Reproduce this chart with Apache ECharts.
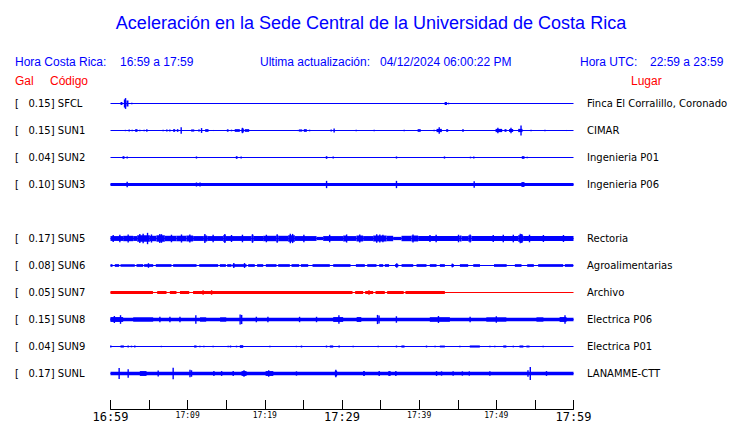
<!DOCTYPE html>
<html>
<head>
<meta charset="utf-8">
<script src="https://cdn.jsdelivr.net/npm/echarts@6/dist/echarts.min.js"></script>
<style>html,body{margin:0;padding:0;background:#fff}#c{width:740px;height:423px}</style>
</head>
<body>
<div id="c"></div>
<script>
// ---- time axis (minutes after 16:59) ----
const tickMinutes = [0, 10, 20, 30, 40, 50, 60];
const tickLabels = ['16:59', '17:09', '17:19', '17:29', '17:39', '17:49', '17:59'];
const bigTicks = [0, 30, 60];

// ---- stations (row order; row 4 is empty) ----
const codes = ['SFCL', 'SUN1', 'SUN2', 'SUN3', '', 'SUN5', 'SUN6', 'SUN7', 'SUN8', 'SUN9', 'SUNL'];
const galValues = ['0.15', '0.15', '0.04', '0.10', '', '0.17', '0.08', '0.05', '0.15', '0.04', '0.17'];
const places = ['Finca El Corralillo, Coronado', 'CIMAR', 'Ingenieria P01', 'Ingenieria P06', '',
  'Rectoria', 'Agroalimentarias', 'Archivo', 'Electrica P06', 'Electrica P01', 'LANAMME-CTT'];

// ---- trace envelopes: segments [t0, t1, halfAmplitude], spikes [t, halfAmplitude] ----
const SFCL_seg = [[1.3,1.55,0.056],[1.76,1.98,0.11],[2.07,2.33,0.11],[43.3,43.6,0.056]];
const SFCL_spk = [[1.82,0.15],[1.95,0.2],[2.76,0.03],[43.8,0.03]];

const SUN1_seg = [[3.2,3.5,0.05],[4.62,4.8,0.05],[7.2,7.4,0.04],[7.6,7.78,0.04],[8.12,8.38,0.05],[8.6,8.8,0.05],
  [10.45,10.85,0.04],[11.36,11.58,0.04],[12.27,12.7,0.05],[15.08,15.3,0.045],[16.1,16.76,0.05],[16.98,17.28,0.07],
  [17.4,17.97,0.05],[24.4,24.84,0.04],[25.05,25.44,0.05],[39.8,40.2,0.05],[42.25,42.94,0.06],[43.5,43.76,0.05],
  [45.57,45.79,0.05],[49.9,50.76,0.06],[51.06,51.32,0.05],[51.65,52.18,0.06],[52.83,53.39,0.06]];
const SUN1_spk = [[1.94,0.025],[2.42,0.037],[2.81,0.03],[3.8,0.03],[4.36,0.03],[6.18,0.02],[6.82,0.025],[9.16,0.12],
  [11.8,0.09],[13.35,0.02],[15.68,0.03],[17.1,0.1],[19.0,0.02],[21.2,0.02],[24.23,0.02],[25.8,0.03],[28.6,0.04],
  [28.98,0.075],[31.84,0.03],[34.17,0.03],[38.06,0.03],[38.79,0.02],[40.9,0.02],[41.94,0.03],[42.6,0.12],[50.2,0.1],
  [51.9,0.1],[53.2,0.185],[54.5,0.03],[56.3,0.03],[59.1,0.02]];

const SUN2_seg = [[1.56,1.81,0.05],[16.24,16.46,0.05],[27.9,28.1,0.05],[53.3,53.65,0.05]];
const SUN2_spk = [[2.16,0.04],[11.14,0.04],[16.93,0.04],[24.45,0.02],[28.86,0.04],[37.06,0.04],[43.28,0.04],
  [46.65,0.03],[47.08,0.04],[54.0,0.03]];

const SUN3_seg = [[0,60,0.056],[53.25,53.65,0.09]];
const SUN3_spk = [[2.16,0.1],[11.14,0.075],[11.6,0.07],[28.0,0.135],[37.06,0.135],[47.13,0.12]];

const SUN5_seg = [[0,1.64,0.09],[1.64,2.94,0.1],[2.94,3.46,0.09],[3.46,5.1,0.12],[5.1,5.96,0.1],[5.96,7.04,0.12],
  [7.04,8.55,0.1],[8.55,9.85,0.1],[9.85,10.71,0.11],[10.71,12.1,0.09],[12.1,12.53,0.11],[12.53,14.6,0.09],
  [14.6,14.95,0.12],[14.95,18.27,0.09],[18.27,18.57,0.11],[18.57,19.78,0.09],[19.78,21.51,0.1],[21.51,21.73,0.12],
  [21.73,23.02,0.1],[23.02,23.89,0.12],[23.89,26.7,0.09],[26.7,27.56,0.06],[27.56,30.15,0.09],[30.15,30.58,0.11],
  [30.58,31.88,0.09],[31.88,32.74,0.11],[32.74,34.04,0.09],[34.04,35.77,0.11],[35.77,36.63,0.1],[36.63,37.71,0.06],
  [37.71,39.0,0.1],[39.0,39.87,0.11],[39.87,45.27,0.09],[45.27,45.49,0.11],[45.49,46.35,0.09],[46.35,46.78,0.11],
  [46.78,52.83,0.09],[52.83,53.47,0.12],[53.47,60,0.09]];
const SUN5_spk = [[0.35,0.13],[1.21,0.14],[2.29,0.15],[3.8,0.17],[4.23,0.18],[4.8,0.21],[5.31,0.15],[6.39,0.17],
  [6.61,0.16],[7.9,0.14],[9.2,0.15],[10.28,0.15],[12.23,0.17],[13.3,0.14],[14.82,0.17],[15.68,0.13],[17.1,0.14],
  [18.4,0.16],[20.2,0.14],[21.6,0.16],[23.3,0.18],[23.6,0.17],[25.06,0.14],[28.4,0.14],[30.6,0.15],[32.3,0.15],
  [34.5,0.16],[34.9,0.15],[35.3,0.14],[39.2,0.15],[41.4,0.13],[42.2,0.14],[45.1,0.14],[46.6,0.15],[49.6,0.13],
  [50.9,0.14],[52.2,0.14],[53.1,0.18],[53.3,0.17],[54.3,0.14],[56.1,0.13],[58.7,0.13]];

const SUN6_seg = [[0,0.26,0.05],[0.56,1.12,0.05],[1.3,3.15,0.05],[3.37,4.23,0.05],[4.36,5.53,0.05],[5.87,7.9,0.05],
  [8.12,11.15,0.05],[11.5,13.95,0.05],[14.17,14.95,0.05],[15.12,15.68,0.05],[15.81,17.63,0.05],[17.84,18.7,0.05],
  [19.0,19.79,0.05],[20.13,21.51,0.05],[21.73,23.24,0.05],[23.46,24.45,0.05],[24.67,25.62,0.05],[26.18,28.42,0.05],
  [28.86,31.1,0.05],[31.8,32.96,0.05],[33.27,34.47,0.05],[34.82,35.34,0.05],[35.55,36.1,0.05],[36.87,37.3,0.05],
  [37.72,39.23,0.05],[39.66,40.95,0.05],[41.38,42.25,0.05],[42.68,43.33,0.05],[44.2,44.5,0.05],[45.28,46.35,0.05],
  [47.01,47.88,0.05],[49.7,51.34,0.05],[52.4,53.26,0.05],[54.0,54.86,0.05],[55.42,58.66,0.05],[58.88,59.96,0.05]];
const SUN6_spk = [[4.92,0.085],[15.98,0.09],[17.37,0.09],[37.1,0.085],[44.3,0.07]];

const SUN7_seg = [[0,5.5,0.055],[6.05,7.26,0.055],[7.69,8.55,0.055],[9.0,10.2,0.055],[10.7,31.36,0.055],
  [31.7,32.74,0.055],[33.0,34.04,0.055],[34.34,35.55,0.055],[35.85,38.0,0.055],[38.22,43.33,0.055]];
const SUN7_spk = [[12.0,0.085],[13.1,0.085],[33.5,0.08]];

const SUN8_seg = [[0,60,0.065],[0,1.64,0.09],[2.94,5.53,0.08],[11.6,12.4,0.08],[14.2,15.0,0.08],[28.86,30.15,0.09],
  [31.9,32.5,0.09],[41.38,43.98,0.085],[48.7,51.3,0.08],[55.2,56.1,0.08],[58.2,59.1,0.09]];
const SUN8_spk = [[0.5,0.13],[1.3,0.16],[6.4,0.1],[7.7,0.1],[9.0,0.1],[11.06,0.16],[16.8,0.185],[17.0,0.17],
  [18.9,0.1],[20.4,0.1],[24.5,0.1],[26.7,0.1],[29.6,0.16],[34.6,0.17],[34.8,0.15],[37.05,0.12],[42.5,0.13],
  [46.6,0.1],[50.0,0.12],[58.9,0.16]];

const SUN9_seg = [[1.3,1.73,0.04],[10.84,11.15,0.04],[16.76,17.2,0.05],[28.42,28.86,0.04],[37.7,38.1,0.04],
  [42.68,43.33,0.035],[46.56,47.86,0.04],[50.9,51.3,0.04],[53.0,53.5,0.04],[53.9,54.3,0.035]];
const SUN9_spk = [[0.04,0.04],[2.29,0.035],[2.72,0.03],[3.15,0.035],[6.6,0.025],[11.58,0.03],[12.1,0.03],
  [13.3,0.025],[15.25,0.03],[15.55,0.035],[16.33,0.03],[20.65,0.03],[24.1,0.025],[24.75,0.035],[27.99,0.035],
  [29.63,0.035],[31.45,0.03],[34.69,0.03],[37.06,0.035],[40.95,0.035],[42.06,0.03],[45.27,0.025],[49.16,0.03],
  [49.8,0.03],[52.2,0.03],[56.07,0.025]];

const SUNL_seg = [[0,60,0.062],[3.8,4.67,0.09],[16.98,17.63,0.09],[20.1,21.1,0.09],[29.07,29.37,0.1],
  [32.74,32.96,0.09],[36.0,36.3,0.09]];
const SUNL_spk = [[1.12,0.2],[2.29,0.16],[6.18,0.11],[8.12,0.21],[10.3,0.14],[10.5,0.12],[13.4,0.09],[14.4,0.09],
  [15.9,0.09],[17.3,0.12],[20.5,0.12],[24.1,0.08],[29.2,0.14],[34.82,0.09],[36.98,0.09],[42.25,0.09],[42.9,0.08],
  [44.4,0.08],[45.6,0.08],[46.5,0.08],[49.16,0.08],[54.1,0.12],[54.4,0.24],[56.5,0.09]];

const traceSegs = [SFCL_seg, SUN1_seg, SUN2_seg, SUN3_seg, null, SUN5_seg, SUN6_seg, SUN7_seg, SUN8_seg, SUN9_seg, SUNL_seg];
const traceSpks = [SFCL_spk, SUN1_spk, SUN2_spk, SUN3_spk, null, SUN5_spk, SUN6_spk, SUN7_spk, SUN8_spk, SUN9_spk, SUNL_spk];
const traceColors = ['#0000ff','#0000ff','#0000ff','#0000ff',null,'#0000ff','#0000ff','#ff0000','#0000ff','#0000ff','#0000ff'];

const BLUE = '#0000ff', RED = '#ff0000';
const chart = echarts.init(document.getElementById('c'), null, {renderer: 'svg'});

function makeRender(color) {
  return function (params, api) {
    const t0 = api.value(0), t1 = api.value(1), row = api.value(2), a = api.value(3);
    const p0 = api.coord([t0, row - a]);
    const p1 = api.coord([t1, row + a]);
    let x = Math.min(p0[0], p1[0]), w = Math.abs(p1[0] - p0[0]);
    if (w < 1.4) { const c = (p0[0] + p1[0]) / 2; x = c - 0.7; w = 1.4; }
    let y = Math.min(p0[1], p1[1]), h = Math.abs(p1[1] - p0[1]);
    if (h < 1) { const c = (p0[1] + p1[1]) / 2; y = c - 0.5; h = 1; }
    return {type: 'rect', shape: {x: x, y: y, width: w, height: h}, style: {fill: color}};
  };
}

const series = [];
for (let r = 0; r < codes.length; r++) {
  if (!traceSegs[r]) continue;
  const color = traceColors[r];
  series.push({
    type: 'line', silent: true, symbol: 'none', animation: false,
    data: [[0, r], [60, r]], lineStyle: {color: color, width: 1}, z: 2
  });
  const items = traceSegs[r].map(s => [s[0], s[1], r, s[2]])
    .concat(traceSpks[r].map(s => [s[0], s[0], r, s[1]]));
  series.push({
    type: 'custom', silent: true, animation: false, clip: false,
    renderItem: makeRender(color), encode: {x: [0, 1], y: 2},
    data: items, z: 3
  });
}

const option = {
  backgroundColor: '#ffffff',
  animation: false,
  grid: {left: 110.5, top: 103.5, width: 463, height: 270, containLabel: false},
  xAxis: {
    type: 'value', min: 0, max: 60, interval: 5, position: 'bottom', offset: 35.5,
    axisLine: {show: true, onZero: false, lineStyle: {color: '#000', width: 1}},
    axisTick: {show: true, inside: true, length: 9, lineStyle: {color: '#000', width: 1}},
    splitLine: {show: false},
    axisLabel: {
      show: true, showMinLabel: true, showMaxLabel: true, margin: 1,
      formatter: function (v) {
        const i = tickMinutes.indexOf(v);
        if (i < 0) return '';
        return bigTicks.indexOf(v) >= 0 ? '{big|' + tickLabels[i] + '}' : '{small|' + tickLabels[i] + '}';
      },
      rich: {
        big: {fontFamily: 'DejaVu Sans Mono', fontSize: 12, lineHeight: 14, color: '#000'},
        small: {fontFamily: 'DejaVu Sans Mono', fontSize: 8, lineHeight: 10, color: '#000'}
      }
    }
  },
  yAxis: [{
    type: 'value', min: 0, max: 10, interval: 1, inverse: true, position: 'left',
    axisLine: {show: false}, axisTick: {show: false}, splitLine: {show: false},
    axisLabel: {
      show: true, showMinLabel: true, showMaxLabel: true, margin: 95.5, align: 'left',
      fontFamily: 'DejaVu Sans', fontSize: 10, color: '#000',
      formatter: function (v) { return codes[v] ? '[   ' + galValues[v] + '] ' + codes[v] : ''; }
    }
  }, {
    type: 'value', min: 0, max: 10, interval: 1, inverse: true, position: 'right',
    axisLine: {show: false}, axisTick: {show: false}, splitLine: {show: false},
    axisLabel: {
      show: true, showMinLabel: true, showMaxLabel: true, margin: 13.5, align: 'left',
      fontFamily: 'DejaVu Sans', fontSize: 10, color: '#000',
      formatter: function (v) { return places[v] || ''; }
    }
  }],
  graphic: [
    {type: 'text', x: 371, y: 23, style: {text: 'Aceleración en la Sede Central de la Universidad de Costa Rica',
      fill: BLUE, font: '18px "Liberation Sans", Arial, sans-serif', align: 'center', verticalAlign: 'middle'}},
    {type: 'text', x: 15, y: 61.5, style: {text: 'Hora Costa Rica:', fill: BLUE, font: '12px "Liberation Sans"', verticalAlign: 'middle'}},
    {type: 'text', x: 120, y: 61.5, style: {text: '16:59 a 17:59', fill: BLUE, font: '12px "Liberation Sans"', verticalAlign: 'middle'}},
    {type: 'text', x: 260, y: 61.5, style: {text: 'Ultima actualización:', fill: BLUE, font: '12px "Liberation Sans"', verticalAlign: 'middle'}},
    {type: 'text', x: 380, y: 61.5, style: {text: '04/12/2024 06:00:22 PM', fill: BLUE, font: '12px "Liberation Sans"', verticalAlign: 'middle'}},
    {type: 'text', x: 580, y: 61.5, style: {text: 'Hora UTC:', fill: BLUE, font: '12px "Liberation Sans"', verticalAlign: 'middle'}},
    {type: 'text', x: 650, y: 61.5, style: {text: '22:59 a 23:59', fill: BLUE, font: '12px "Liberation Sans"', verticalAlign: 'middle'}},
    {type: 'text', x: 15, y: 81, style: {text: 'Gal', fill: RED, font: '12px "Liberation Sans"', verticalAlign: 'middle'}},
    {type: 'text', x: 50, y: 81, style: {text: 'Código', fill: RED, font: '12px "Liberation Sans"', verticalAlign: 'middle'}},
    {type: 'text', x: 631, y: 81, style: {text: 'Lugar', fill: RED, font: '12px "Liberation Sans"', verticalAlign: 'middle'}}
  ],
  series: series
};
chart.setOption(option);
</script>
</body>
</html>
